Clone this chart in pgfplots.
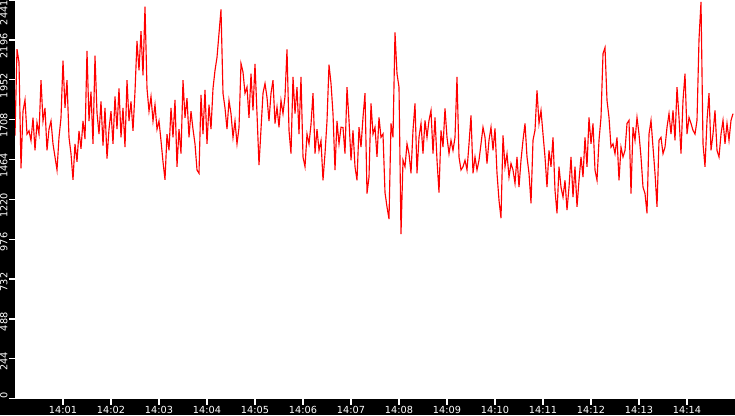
\documentclass[border=0pt]{standalone}
\usepackage{pgfplots}
\pgfplotsset{compat=1.18}
\usepackage{fontspec}
\setmainfont{DejaVu Sans}
\begin{document}
\begin{tikzpicture}
\useasboundingbox[fill=black] (-11.25pt,-12.25pt) rectangle (540pt,299pt);
\begin{axis}[
  scale only axis, width=540pt, height=299pt,
  at={(0,0)}, anchor=south west,
  xmin=0, xmax=360, ymin=0, ymax=2441,
  axis background/.style={fill=white},
  axis line style={draw=none},
  tick align=outside, major tick length=4.5pt,
  tick style={white, line width=1pt},
  xtick style={draw=white, line width=1.3pt},
  xtick={24,48,...,336},
  xticklabels={14:01,14:02,14:03,14:04,14:05,14:06,14:07,14:08,14:09,14:10,14:11,14:12,14:13,14:14},
  ytick={0,244.1,488.2,732.3,976.4,1220.5,1464.6,1708.7,1952.8,2196.9,2441},
  yticklabels={0,244,488,732,976,1220,1464,1708,1952,2196,{}},
  extra y ticks={2400},
  extra y tick labels={2441},
  extra y tick style={tick style={draw=none}},
  xticklabel style={font=\fontsize{7.3}{8}\selectfont, text=white, inner sep=0pt, anchor=north, yshift=-1pt},
  yticklabel style={font=\fontsize{7.3}{8}\selectfont, text=white, inner sep=0pt, xshift=-1pt, yshift=5pt, rotate=90, anchor=south east},
  clip=true,
]
\addplot[red, line width=0.85pt, mark=none] coordinates {
(0,1610) (1,2140) (2,2060) (3,1410) (4,1760) (5,1830) (6,1620) (7,1640) (8,1580) (9,1720) (10,1520) (11,1690)
(12,1620) (13,1950) (14,1700) (15,1780) (16,1520) (17,1650) (18,1700) (19,1560) (20,1480) (21,1400) (22,1600) (23,1720)
(24,2070) (25,1780) (26,1950) (27,1600) (28,1500) (29,1340) (30,1560) (31,1450) (32,1640) (33,1530) (34,1700) (35,1590)
(36,2130) (37,1700) (38,1880) (39,1560) (40,2100) (41,1750) (42,1620) (43,1820) (44,1550) (45,1780) (46,1470) (47,1650)
(48,1760) (49,1560) (50,1850) (51,1650) (52,1900) (53,1600) (54,1780) (55,1540) (56,1950) (57,1700) (58,1820) (59,1640)
(60,1880) (61,2190) (62,2010) (63,2250) (64,1980) (65,2400) (66,1900) (67,1760) (68,1850) (69,1700) (70,1800) (71,1650)
(72,1700) (73,1580) (74,1450) (75,1340) (76,1620) (77,1520) (78,1780) (79,1600) (80,1830) (81,1420) (82,1650) (83,1500)
(84,1950) (85,1720) (86,1840) (87,1600) (88,1760) (89,1650) (90,1560) (91,1400) (92,1380) (93,1860) (94,1620) (95,1890)
(96,1560) (97,1800) (98,1650) (99,1900) (100,2010) (101,2090) (102,2236) (103,2383) (104,1870) (105,1780) (106,1650) (107,1826)
(108,1745) (109,1600) (110,1700) (111,1560) (112,1660) (113,2052) (114,2000) (115,1870) (116,1908) (117,1720) (118,1990) (119,1765)
(120,2050) (121,1745) (122,1430) (123,1650) (124,1870) (125,1930) (126,1845) (127,1700) (128,1870) (129,1950) (130,1685) (131,1785)
(132,1662) (133,1826) (134,1745) (135,1850) (136,2138) (137,1643) (138,1500) (139,1970) (140,1745) (141,1908) (142,1620) (143,1970)
(144,1480) (145,1420) (146,1620) (147,1560) (148,1680) (149,1870) (150,1500) (151,1650) (152,1520) (153,1580) (154,1337) (155,1500)
(156,1700) (157,2045) (158,1930) (159,1745) (160,1400) (161,1700) (162,1560) (163,1662) (164,1660) (165,1500) (166,1908) (167,1704)
(168,1460) (169,1643) (170,1420) (171,1337) (172,1662) (173,1540) (174,1722) (175,1870) (176,1256) (177,1357) (178,1808) (179,1620)
(180,1662) (181,1480) (182,1722) (183,1600) (184,1620) (185,1262) (186,1174) (187,1100) (188,1685) (189,1600) (190,2243) (191,1990)
(192,1908) (193,1008) (194,1460) (195,1420) (196,1560) (197,1500) (198,1380) (199,1643) (200,1808) (201,1380) (202,1600) (203,1685)
(204,1500) (205,1704) (206,1600) (207,1704) (208,1765) (209,1500) (210,1722) (211,1460) (212,1262) (213,1643) (214,1540) (215,1777)
(216,1600) (217,1500) (218,1582) (219,1520) (220,1600) (221,1970) (222,1480) (223,1400) (224,1420) (225,1460) (226,1400) (227,1560)
(228,1735) (229,1380) (230,1480) (231,1400) (232,1460) (233,1560) (234,1662) (235,1600) (236,1440) (237,1582) (238,1662) (239,1520)
(240,1655) (241,1380) (242,1215) (243,1105) (244,1612) (245,1420) (246,1500) (247,1357) (248,1440) (249,1400) (250,1318) (251,1480)
(252,1295) (253,1460) (254,1582) (255,1685) (256,1480) (257,1380) (258,1196) (259,1582) (260,1643) (261,1888) (262,1685) (263,1765)
(264,1620) (265,1480) (266,1295) (267,1520) (268,1420) (269,1600) (270,1276) (271,1135) (272,1420) (273,1295) (274,1234) (275,1337)
(276,1154) (277,1295) (278,1480) (279,1234) (280,1420) (281,1174) (282,1337) (283,1480) (284,1357) (285,1600) (286,1420) (287,1722)
(288,1560) (289,1685) (290,1400) (291,1337) (292,1582) (293,1722) (294,2112) (295,2150) (296,1826) (297,1722) (298,1540) (299,1560)
(300,1500) (301,1600) (302,1337) (303,1540) (304,1480) (305,1520) (306,1685) (307,1704) (308,1256) (309,1662) (310,1582) (311,1722)
(312,1620) (313,1480) (314,1295) (315,1256) (316,1135) (317,1620) (318,1704) (319,1540) (320,1380) (321,1174) (322,1582) (323,1600)
(324,1500) (325,1540) (326,1662) (327,1745) (328,1620) (329,1765) (330,1582) (331,1908) (332,1722) (333,1500) (334,1826) (335,1990)
(336,1620) (337,1722) (338,1685) (339,1643) (340,1620) (341,1704) (342,2200) (343,2430) (344,1560) (345,1420) (346,1704) (347,1870)
(348,1520) (349,1620) (350,1765) (351,1520) (352,1480) (353,1620) (354,1704) (355,1560) (356,1685) (357,1582) (358,1704) (359,1745)
};
\end{axis}
\end{tikzpicture}
\end{document}
